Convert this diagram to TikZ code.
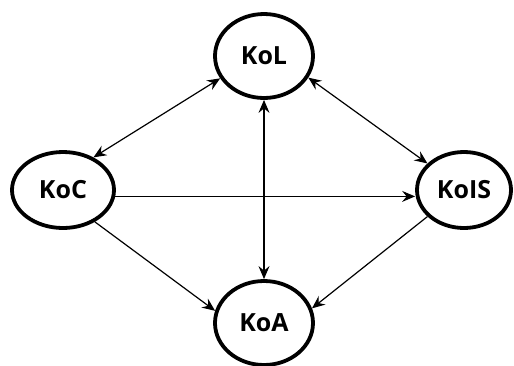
\documentclass[tikz,border=0pt]{standalone}
\usepackage{fontspec}
\setmainfont{Open Sans}
\usetikzlibrary{shapes,arrows.meta}

\begin{document}
\begin{tikzpicture}[x=1pt, y=-1pt, node distance=3cm,
    >={Stealth[length=13pt,width=11pt,inset=4.5pt]}]
    \tikzstyle{concept} = [draw, ellipse, line width=3.8pt,
    inner sep=0pt, font=\fontsize{25}{30}\selectfont\bfseries]
    \tikzstyle{link} = [line width=1.2pt]

    \useasboundingbox (0,0) rectangle (514,365);

    \node [concept, minimum width=98pt, minimum height=84pt] at (264,56) (KoL) {KoL};
    \node [concept, minimum width=98pt, minimum height=84pt, below of=KoL, node distance=267pt] (KoA) {KoA};
    \node [concept, minimum width=102pt, minimum height=76pt] at (63,190) (KoC) {KoC};
    \node [concept, minimum width=94pt, minimum height=76pt, right of=KoC, node distance=401pt] (KoIS) {KoIS};

    \draw [link,<->] (KoC.47) -- (KoL.207);
    \draw [link,<->] (KoL.334) -- (KoIS.144);
    \draw [link,<->] (KoL.south) -- (KoA.north);
    \draw [link,->] (KoC.-7) -- (KoC.-7 -| KoIS.west);
    \draw [link,->] (KoC.-45) -- (KoA.166);
    \draw [link,->] (KoIS.216) -- (KoA.17);
\end{tikzpicture}
\end{document}
